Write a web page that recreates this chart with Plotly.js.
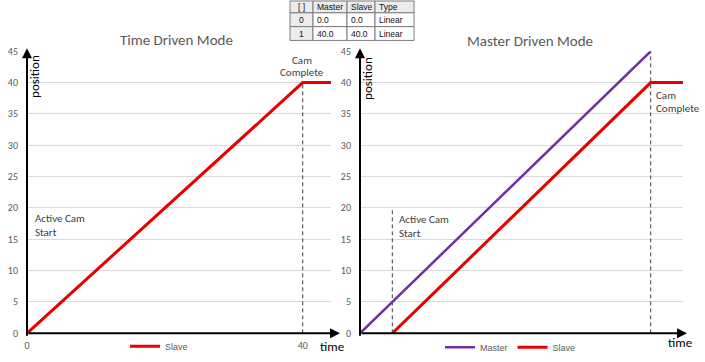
<!DOCTYPE html>
<html><head><meta charset="utf-8">
<script src="https://cdn.plot.ly/plotly-3.0.1.min.js"></script>
<style>html,body{margin:0;padding:0;background:#fff}#c{width:705px;height:362px}</style>
</head><body><div id="c"></div>
<script>
// ---- data ----
const leftTime = [0, 40, 44.1];
const leftSlave = [0, 40, 40];
const masterTime = [0, 45];
const masterPos = [0, 45];
const slaveTime = [5, 45, 50];
const slavePos = [0, 40, 40];
const leftCompleteX = [40, 40], leftCompleteY = [0, 40];
const rightStartX = [5, 5], rightStartY = [0, 20];
const rightCompleteX = [45, 45], rightCompleteY = [0, 45];
const yTicks = [0, 5, 10, 15, 20, 25, 30, 35, 40, 45];
const leftXTicks = [0, 40];
const tableHeader = ['[ ]', 'Master', 'Slave', 'Type'];
const tableIndex = ['0', '1'];
const tableMaster = ['0.0', '40.0'];
const tableSlave = ['0.0', '40.0'];
const tableType = ['Linear', 'Linear'];

const W = 705, H = 362;
const px = v => v / W, py = v => 1 - v / H;
const FONT = 'Carlito, Lato, "Open Sans", sans-serif';
const RED = '#e80000', PURPLE = '#7030a0', DASH = '#404040', GRAY = '#595959';
const TFONT = {family: 'Liberation Sans, Arial, sans-serif', size: 8.5, color: '#111'};

const dashLine = {color: DASH, width: 1, dash: '4px,3px'};
const traces = [
  {x: leftCompleteX, y: leftCompleteY, xaxis: 'x', yaxis: 'y', mode: 'lines', line: dashLine, showlegend: false, hoverinfo: 'skip'},
  {x: rightStartX, y: rightStartY, xaxis: 'x2', yaxis: 'y2', mode: 'lines', line: dashLine, showlegend: false, hoverinfo: 'skip'},
  {x: rightCompleteX, y: rightCompleteY, xaxis: 'x2', yaxis: 'y2', mode: 'lines', line: dashLine, showlegend: false, hoverinfo: 'skip'},
  {x: leftTime, y: leftSlave, xaxis: 'x', yaxis: 'y', mode: 'lines', name: 'Slave', line: {color: RED, width: 3}, legend: 'legend'},
  {x: masterTime, y: masterPos, xaxis: 'x2', yaxis: 'y2', mode: 'lines', name: 'Master', line: {color: PURPLE, width: 2.5}, legend: 'legend2'},
  {x: slaveTime, y: slavePos, xaxis: 'x2', yaxis: 'y2', mode: 'lines', name: 'Slave', line: {color: RED, width: 3}, legend: 'legend2'}
];

const axisY = {range: [0, 45], tickvals: yTicks, showgrid: true, gridcolor: '#d9d9d9', gridwidth: 1,
  zeroline: false, showline: false, ticks: '', ticklabelstandoff: 8,
  tickfont: {family: FONT, size: 10, color: GRAY}, domain: [py(338), py(52)], fixedrange: true};

function arrow(x, y, ax, ay) {
  return {xref: 'paper', yref: 'paper', x: px(x), y: py(y), ax: ax, ay: ay, text: '', showarrow: true,
    arrowhead: 2, arrowsize: 1, arrowwidth: 2, arrowcolor: '#000', standoff: 0, startstandoff: 0};
}
function txt(text, x, y, opts) {
  return Object.assign({xref: 'paper', yref: 'paper', x: px(x), y: py(y), text: text, showarrow: false,
    xanchor: 'center', yanchor: 'middle', font: {family: FONT, size: 11, color: '#404040'}}, opts || {});
}
const L = {xanchor: 'left', align: 'left'};

// ---- table built from the arrays ----
const colEdges = [290, 313, 347, 375, 414];
const rowEdges = [1, 13, 27, 41];
const tableRows = [tableHeader];
tableIndex.forEach((v, i) => tableRows.push([v, tableMaster[i], tableSlave[i], tableType[i]]));
const shapes = [];
const tableAnn = [];
tableRows.forEach((row, r) => {
  row.forEach((val, c) => {
    const x0 = colEdges[c], x1 = colEdges[c + 1], y0 = rowEdges[r], y1 = rowEdges[r + 1];
    const gray = (r === 0 || c === 0);
    shapes.push({type: 'rect', xref: 'paper', yref: 'paper', x0: px(x0), x1: px(x1), y0: py(y1), y1: py(y0),
      fillcolor: gray ? '#ececec' : '#ffffff', line: {color: '#7d7d7d', width: 1}, layer: 'above'});
    const centered = (c === 0);
    tableAnn.push({xref: 'paper', yref: 'paper', showarrow: false, text: val, font: TFONT,
      x: px(centered ? (x0 + x1) / 2 : x0 + 2), y: py((y0 + y1) / 2 + 0.5),
      xanchor: centered ? 'center' : 'left', yanchor: 'middle'});
  });
});

const layout = {
  width: W, height: H, margin: {l: 0, r: 0, t: 0, b: 0},
  paper_bgcolor: '#fff', plot_bgcolor: 'rgba(0,0,0,0)',
  xaxis: {domain: [px(27), px(331)], range: [0, 44.1], tickvals: leftXTicks, showgrid: false, zeroline: false,
    showline: false, ticks: '', ticklabelstandoff: 5, tickfont: {family: FONT, size: 10, color: GRAY}, anchor: 'y', fixedrange: true},
  yaxis: Object.assign({}, axisY, {anchor: 'x'}),
  xaxis2: {domain: [px(360), px(683)], range: [0, 50], showticklabels: false, showgrid: false, zeroline: false,
    showline: false, ticks: '', anchor: 'y2', fixedrange: true},
  yaxis2: Object.assign({}, axisY, {anchor: 'x2'}),
  showlegend: true,
  legend: {orientation: 'h', x: px(125), y: py(351), xanchor: 'left', yanchor: 'middle', bgcolor: 'rgba(0,0,0,0)',
    font: {family: 'Liberation Sans, Arial, sans-serif', size: 9, color: GRAY}, itemwidth: 30},
  legend2: {orientation: 'h', x: px(440), y: py(352), xanchor: 'left', yanchor: 'middle', bgcolor: 'rgba(0,0,0,0)',
    font: {family: 'Liberation Sans, Arial, sans-serif', size: 9, color: GRAY}, itemwidth: 30, tracegroupgap: 0},
  shapes: shapes,
  annotations: [
    arrow(27, 49, 0, 289), arrow(340, 338, -313, 0),
    arrow(360, 49, 0, 289), arrow(687, 338, -327, 0),
    txt('Time Driven Mode', 177, 41, {font: {family: FONT, size: 15, color: GRAY}}),
    txt('Master Driven Mode', 530, 42, {font: {family: FONT, size: 15, color: GRAY}}),
    txt('position', 35, 78, {textangle: -90, font: {family: FONT, size: 13, color: '#000'}}),
    txt('position', 368, 80, {textangle: -90, font: {family: FONT, size: 13, color: '#000'}}),
    txt('time', 332, 351, {font: {family: FONT, size: 13, color: '#000'}}),
    txt('time', 680, 347, {font: {family: FONT, size: 13, color: '#000'}}),
    txt('Cam', 302, 61),
    txt('Complete', 302, 74),
    txt('Active Cam', 33, 222, L),
    txt('Start', 33, 236, L),
    txt('Active Cam', 397, 223, L),
    txt('Start', 397, 237, L),
    txt('Cam', 654, 97, L),
    txt('Complete', 654, 110, L)
  ].concat(tableAnn)
};
Plotly.newPlot('c', traces, layout, {staticPlot: true, displayModeBar: false});
</script></body></html>
